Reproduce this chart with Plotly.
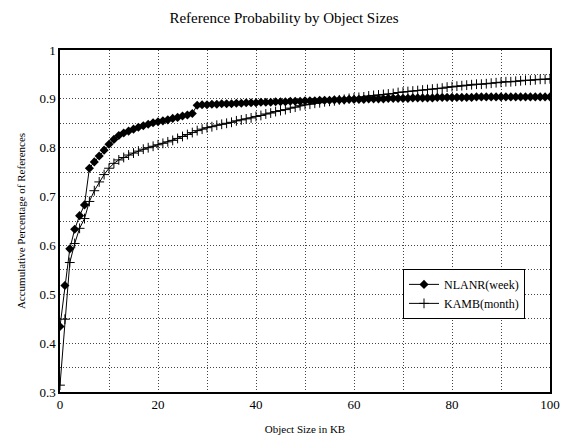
import plotly.graph_objects as go

sizes_kb = list(range(0, 101))

nlanr_week = [
    0.434, 0.518, 0.593, 0.633, 0.661, 0.683, 0.758, 0.771, 0.783, 0.795,
    0.807, 0.817, 0.825, 0.830, 0.834, 0.838, 0.842, 0.845, 0.848, 0.851,
    0.853, 0.855, 0.857, 0.860, 0.862, 0.865, 0.867, 0.870, 0.887, 0.888,
    0.888, 0.889, 0.889, 0.890, 0.890, 0.890, 0.891, 0.891, 0.892, 0.892,
    0.892, 0.893, 0.893, 0.893, 0.894, 0.894, 0.894, 0.895, 0.895, 0.895,
    0.896, 0.896, 0.896, 0.897, 0.897, 0.897, 0.898, 0.898, 0.898, 0.899,
    0.899, 0.899, 0.899, 0.900, 0.900, 0.900, 0.900, 0.901, 0.901, 0.901,
    0.901, 0.901, 0.902, 0.902, 0.902, 0.902, 0.902, 0.903, 0.903, 0.903,
    0.903, 0.903, 0.903, 0.903, 0.903, 0.904, 0.904, 0.904, 0.904, 0.904,
    0.904, 0.904, 0.904, 0.904, 0.904, 0.904, 0.904, 0.904, 0.904, 0.904,
    0.904,
]

kamb_month = [
    0.314, 0.449, 0.565, 0.604, 0.635, 0.655, 0.690, 0.712, 0.730, 0.745,
    0.758, 0.768, 0.775, 0.780, 0.785, 0.789, 0.793, 0.797, 0.800, 0.803,
    0.806, 0.809, 0.812, 0.815, 0.819, 0.823, 0.827, 0.831, 0.835, 0.838,
    0.841, 0.843, 0.846, 0.848, 0.850, 0.852, 0.855, 0.857, 0.859, 0.861,
    0.864, 0.866, 0.869, 0.871, 0.874, 0.876, 0.878, 0.881, 0.883, 0.886,
    0.888, 0.889, 0.891, 0.892, 0.894, 0.895, 0.896, 0.898, 0.899, 0.901,
    0.902, 0.903, 0.904, 0.906, 0.907, 0.908, 0.909, 0.910, 0.911, 0.913,
    0.914, 0.915, 0.916, 0.917, 0.918, 0.919, 0.920, 0.921, 0.922, 0.924,
    0.925, 0.926, 0.927, 0.928, 0.929, 0.930, 0.930, 0.931, 0.932, 0.933,
    0.934, 0.935, 0.935, 0.936, 0.937, 0.938, 0.938, 0.939, 0.940, 0.940,
    0.941,
]

x_tick_vals = [0, 10, 20, 30, 40, 50, 60, 70, 80, 90, 100]
x_tick_text = ["0", "", "20", "", "40", "", "60", "", "80", "", "100"]
y_tick_vals = [0.3, 0.35, 0.4, 0.45, 0.5, 0.55, 0.6, 0.65, 0.7, 0.75, 0.8, 0.85, 0.9, 0.95, 1.0]
y_tick_text = ["0.3", "", "0.4", "", "0.5", "", "0.6", "", "0.7", "", "0.8", "", "0.9", "", "1"]

FONT = "Liberation Serif, Times New Roman, serif"

fig = go.Figure()
fig.add_trace(go.Scatter(
    x=sizes_kb, y=nlanr_week, name="NLANR(week)", mode="lines+markers",
    line=dict(color="black", width=1),
    marker=dict(symbol="diamond", size=7, color="black"),
))
fig.add_trace(go.Scatter(
    x=sizes_kb, y=kamb_month, name="KAMB(month)", mode="lines+markers",
    line=dict(color="black", width=1),
    marker=dict(symbol="cross-thin-open", size=7, color="black",
                line=dict(color="black", width=1)),
))

fig.update_layout(
    width=552, height=428,
    paper_bgcolor="white", plot_bgcolor="white",
    margin=dict(l=52, r=10, t=42, b=44, autoexpand=False),
    font=dict(family=FONT, color="black", size=12),
    title=dict(text="Reference Probability by Object Sizes", x=0.5, xanchor="center",
               y=0.99, yanchor="top", font=dict(size=15, family=FONT)),
    showlegend=True,
    legend=dict(x=0.70, y=0.36, xanchor="left", yanchor="top",
                bgcolor="white", bordercolor="black", borderwidth=1,
                font=dict(size=12, family=FONT), tracegroupgap=0,
                itemwidth=30),
)
fig.update_xaxes(
    range=[0, 100], tickvals=x_tick_vals, ticktext=x_tick_text,
    showgrid=True, gridcolor="#444", griddash="1px,2px", gridwidth=1,
    showline=True, linecolor="black", linewidth=1.5, mirror=True,
    ticks="", zeroline=False, tickfont=dict(size=13, family=FONT),
    automargin=False,
    title=dict(text="Object Size in KB", font=dict(size=11, family=FONT), standoff=14),
)
fig.update_yaxes(
    range=[0.3, 1.0], tickvals=y_tick_vals, ticktext=y_tick_text,
    showgrid=True, gridcolor="#444", griddash="1px,2px", gridwidth=1,
    showline=True, linecolor="black", linewidth=1.5, mirror=True,
    ticks="", zeroline=False, tickfont=dict(size=13, family=FONT),
    automargin=False,
    title=dict(text="Accumulative Percentage of References", font=dict(size=11, family=FONT), standoff=12),
)

fig.write_html("out.html")
